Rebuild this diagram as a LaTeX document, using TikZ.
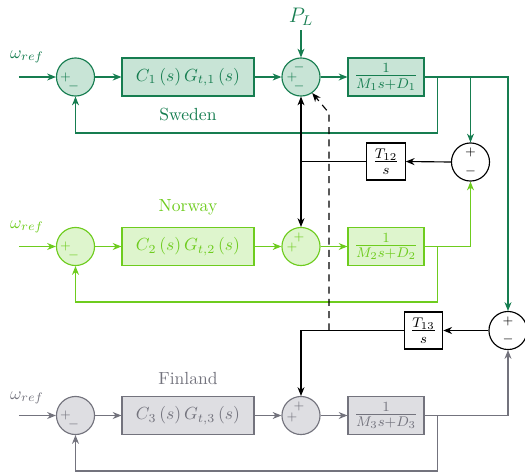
\documentclass[tikz,border=0pt]{standalone}
\usetikzlibrary{arrows.meta}
\definecolor{swe}{RGB}{22,125,80}
\definecolor{swefill}{RGB}{200,228,214}
\definecolor{nor}{RGB}{110,204,30}
\definecolor{norfill}{RGB}{222,245,205}
\definecolor{fin}{RGB}{115,115,125}
\definecolor{finfill}{RGB}{222,222,226}
\begin{document}
\begin{tikzpicture}[x=0.57pt,y=-0.57pt,
  >={Stealth[length=5pt,width=4pt]},
  line width=0.65pt,
  sumnode/.style={circle,draw,minimum size=21.7pt,inner sep=0pt},
  ctrl/.style={draw,minimum width=75.2pt,minimum height=21.7pt,inner sep=0pt},
  plant/.style={draw,minimum width=43.3pt,minimum height=21.7pt,inner sep=0pt,font=\large},
  tie/.style={draw,minimum width=21.9pt,minimum height=21.1pt,inner sep=0pt,font=\large},
  sgn/.style={inner sep=0pt,font=\scriptsize},
  sw/.style={draw=swe,fill=swefill,text=swe},
  nw/.style={draw=nor,fill=norfill,text=nor},
  fw/.style={draw=fin,fill=finfill,text=fin},
  dashline/.style={dashed,dash pattern=on 4pt off 3pt},
]
\useasboundingbox (0,0) rectangle (525,473);

% ---------- Sweden ----------
\node[sumnode,sw] (s1) at (75.5,77) {};
\node[ctrl,sw] (c1) at (188,77) {$C_1\left(s\right)G_{t,1}\left(s\right)$};
\node[sumnode,sw] (m1) at (301,77) {};
\node[plant,sw] (p1) at (386,77) {$\frac{1}{M_1s+D_1}$};
\node[text=swe] (w1) at (27,57) {$\omega_{ref}$};
\coordinate (w1in) at (19,77);
\node[text=swe] (lab1) at (188,115) {Sweden};
\node[text=swe,font=\large] (pl) at (301,17) {$P_L$};
\coordinate (plin) at (301,30);
\node[sgn,text=swe] (s1a) at (65.5,77) {$+$};
\node[sgn,text=swe] (s1b) at (73.5,86) {$-$};
\node[sgn,text=swe] (m1a) at (299,67) {$-$};
\node[sgn,text=swe] (m1b) at (292,77) {$+$};
\node[sgn,text=swe] (m1c) at (299,86) {$-$};

% ---------- Norway ----------
\node[sumnode,nw] (s2) at (75.5,246.5) {};
\node[ctrl,nw] (c2) at (188,246.5) {$C_2\left(s\right)G_{t,2}\left(s\right)$};
\node[sumnode,nw] (m2) at (301,246.5) {};
\node[plant,nw] (p2) at (386,246.5) {$\frac{1}{M_2s+D_2}$};
\node[text=nor] (w2) at (27,227) {$\omega_{ref}$};
\coordinate (w2in) at (19,246.5);
\node[text=nor] (lab2) at (188,207) {Norway};
\node[sgn,text=nor] (s2a) at (65.5,246.5) {$+$};
\node[sgn,text=nor] (s2b) at (73.5,255.5) {$-$};
\node[sgn,text=nor] (m2a) at (299,237) {$+$};
\node[sgn,text=nor] (m2b) at (292,247.5) {$+$};

% ---------- Finland ----------
\node[sumnode,fw] (s3) at (75.5,415.5) {};
\node[ctrl,fw] (c3) at (188,415.5) {$C_3\left(s\right)G_{t,3}\left(s\right)$};
\node[sumnode,fw] (m3) at (301,415.5) {};
\node[plant,fw] (p3) at (386,415.5) {$\frac{1}{M_3s+D_3}$};
\node[text=fin] (w3) at (27,398) {$\omega_{ref}$};
\coordinate (w3in) at (19,415.5);
\node[text=fin] (lab3) at (188,379) {Finland};
\node[sgn,text=fin] (s3a) at (65.5,415.5) {$+$};
\node[sgn,text=fin] (s3b) at (73.5,424.5) {$-$};
\node[sgn,text=fin] (m3a) at (299,406) {$+$};
\node[sgn,text=fin] (m3b) at (292,417) {$+$};

% ---------- tie lines ----------
\node[sumnode,fill=white] (rs1) at (470.5,162) {};
\node[sumnode,fill=white] (rs2) at (508,330.5) {};
\node[sgn] (rs1a) at (470.5,152.5) {$+$};
\node[sgn] (rs1b) at (470.5,171) {$-$};
\node[sgn] (rs2a) at (508,321) {$+$};
\node[sgn] (rs2b) at (508,339.5) {$-$};
\node[tie] (t12) at (386,161.5) {$\frac{T_{12}}{s}$};
\node[tie] (t13) at (423.5,330.5) {$\frac{T_{13}}{s}$};

\coordinate (b1) at (437.7,77);
\coordinate (f1) at (437.7,133);
\coordinate (b2) at (437.7,246.5);
\coordinate (f2) at (437.7,302);
\coordinate (b3) at (437.7,415.5);
\coordinate (f3) at (437.7,471);
\coordinate (j1) at (301,161.5);
\coordinate (j2) at (301,330.5);
\coordinate (d1) at (329,330.5);
\coordinate (d2) at (329,113);

% Sweden connectors
\draw[->,swe] (w1in) -- (s1);
\draw[->,swe] (s1) -- (c1);
\draw[->,swe] (c1) -- (m1);
\draw[->,swe] (m1) -- (p1);
\draw[->,swe] (plin) -- (m1);
\draw[->,swe] (p1.east) -| (rs2.north);
\draw[->,swe] (rs1.north |- p1.east) -- (rs1.north);
\draw[->,swe] (b1) -- (f1) -| (s1.south);

% Norway connectors
\draw[->,nor] (w2in) -- (s2);
\draw[->,nor] (s2) -- (c2);
\draw[->,nor] (c2) -- (m2);
\draw[->,nor] (m2) -- (p2);
\draw[->,nor] (p2.east) -| (rs1.south);
\draw[->,nor] (b2) -- (f2) -| (s2.south);

% Finland connectors
\draw[->,fin] (w3in) -- (s3);
\draw[->,fin] (s3) -- (c3);
\draw[->,fin] (c3) -- (m3);
\draw[->,fin] (m3) -- (p3);
\draw[->,fin] (p3.east) -| (rs2.south);
\draw[->,fin] (b3) -- (f3) -| (s3.south);

% tie-line connectors
\draw[->] (rs1.west) -- (t12.east);
\draw (t12.west) -- (j1);
\draw[->] (j1) -- (m1.south);
\draw[->] (j1) -- (m2.north);
\draw[->] (rs2.west) -- (t13.east);
\draw[->] (t13.west) -- (j2) -- (m3.north);
\draw[->,dashline] (d1) -- (d2) -- (m1.-55);
\end{tikzpicture}
\end{document}
